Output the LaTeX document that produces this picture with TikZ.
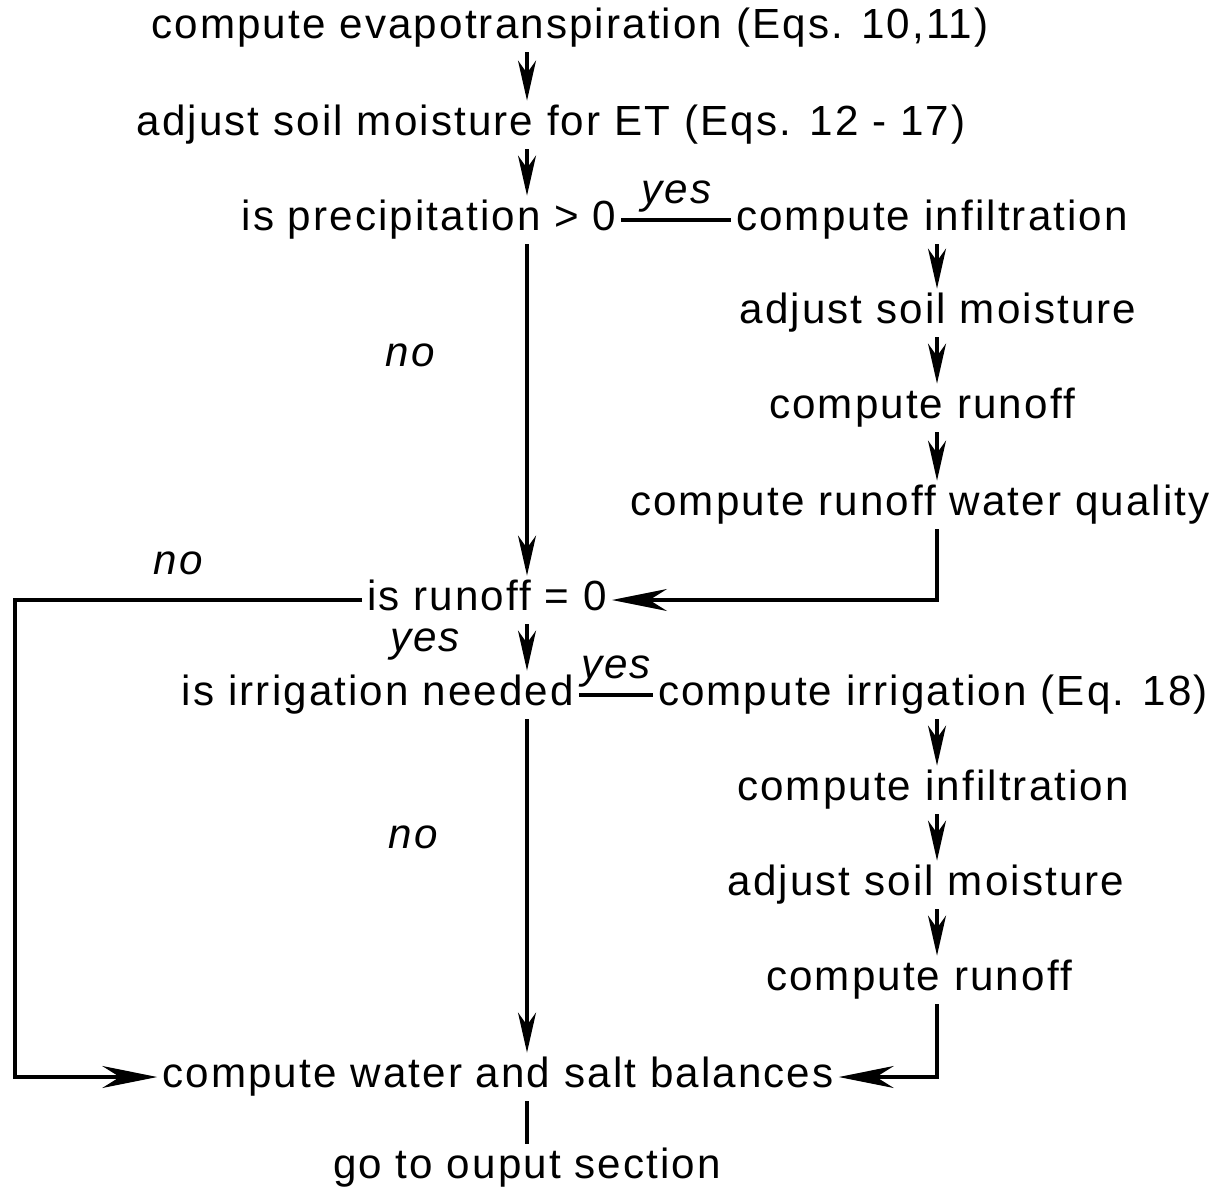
\documentclass[tikz,border=0pt]{standalone}
\usepackage{fontspec}
\setmainfont{Liberation Sans}[LetterSpace=5]
\usetikzlibrary{arrows.meta}

\begin{document}
\begin{tikzpicture}[x=0.02cm, y=-0.02cm, line width=1.8pt,
  font=\fontsize{24}{29}\selectfont,
  txt/.style={inner sep=2pt, text height=17pt, text depth=5pt},
  lbl/.style={font=\fontsize{24}{29}\selectfont\itshape},
  arr/.style={-{Stealth[length=8mm,width=3.6mm,inset=2.5mm]}},
  bigarr/.style={-{Stealth[length=11mm,width=4.4mm,inset=3.5mm]}}]
\useasboundingbox (0,0) rectangle (1219,1189);
\coordinate (left) at (527,0);
\coordinate (right) at (937,0);
\coordinate (edge) at (15,0);

% main column
\node[txt] (evap) at (570,28) {compute evapotranspiration (Eqs. 10,11)};
\node[txt] (adjET) at (551,125) {adjust soil moisture for ET (Eqs. 12 - 17)};
\node[txt] (precip) at (429,220) {is precipitation > 0};
\node[txt] (runoff0) at (487,600) {is runoff = 0};
\node[txt] (irrig) at (378,695) {is irrigation needed};
\node[txt] (balance) at (498,1077) {compute water and salt balances};
\node[txt] (output) at (527,1168) {go to ouput section};

% precipitation branch
\node[txt] (infil1) at (932,220) {compute infiltration};
\node[txt] (adj1) at (938,313) {adjust soil moisture};
\node[txt] (runoff1) at (922,408) {compute runoff};
\node[txt] (quality) at (920,505) {compute runoff water quality};

% irrigation branch
\node[txt] (irrcomp) at (933,695) {compute irrigation (Eq. 18)};
\node[txt] (infil2) at (933,790) {compute infiltration};
\node[txt] (adj2) at (926,885) {adjust soil moisture};
\node[txt] (runoff2) at (919,980) {compute runoff};

% labels
\node[lbl] (no1) at (410,355) {no};
\node[lbl] (no2) at (178,563) {no};
\node[lbl] (yes2) at (425,645) {yes};
\node[lbl] (no3) at (413,837) {no};

\draw[arr] (evap.south -| left) -- (adjET.north -| left);
\draw[arr] (adjET.south -| left) -- (precip.north -| left);
\draw (precip.east) -- node[lbl, above] {yes} (infil1.west);
\draw[arr] (infil1.south -| right) -- (adj1.north -| right);
\draw[arr] (adj1.south -| right) -- (runoff1.north -| right);
\draw[arr] (runoff1.south -| right) -- (quality.north -| right);
\draw[bigarr] (quality.south -| right) |- (runoff0.east);
\draw[arr] (precip.south -| left) -- (runoff0.north -| left);
\draw[bigarr] (runoff0.west) -| (balance.west -| edge) -- (balance.west);
\draw[arr] (runoff0.south -| left) -- (irrig.north -| left);
\draw (irrig.east) -- node[lbl, above] {yes} (irrcomp.west);
\draw[arr] (irrcomp.south -| right) -- (infil2.north -| right);
\draw[arr] (infil2.south -| right) -- (adj2.north -| right);
\draw[arr] (adj2.south -| right) -- (runoff2.north -| right);
\draw[bigarr] (runoff2.south -| right) |- (balance.east);
\draw[arr] (irrig.south -| left) -- (balance.north -| left);
\draw (balance.south -| left) -- (output.north -| left);
\end{tikzpicture}
\end{document}
